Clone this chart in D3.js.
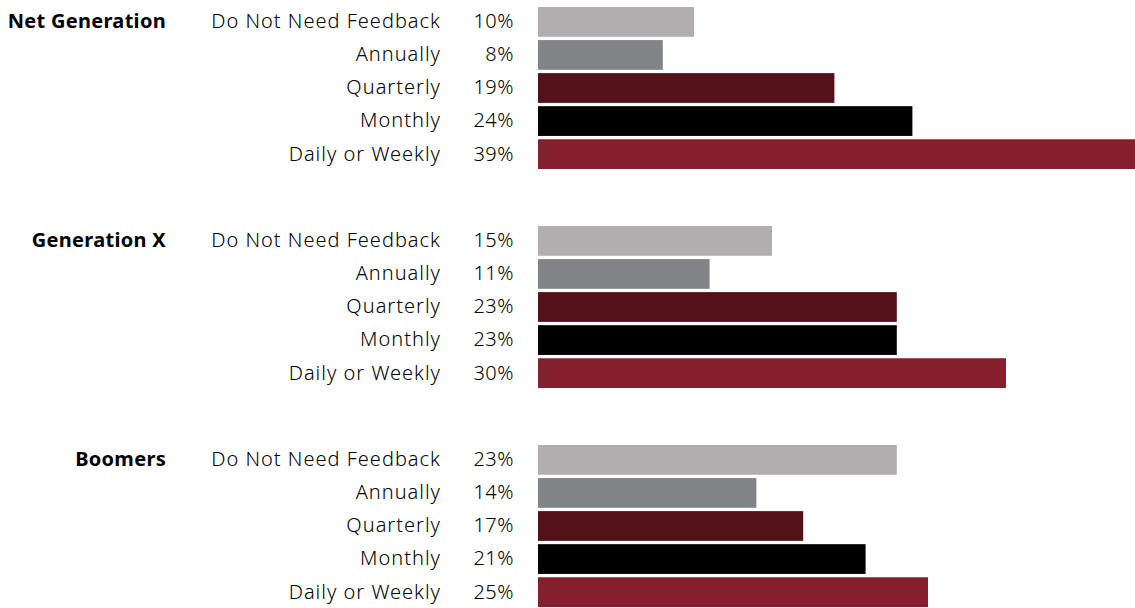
<!DOCTYPE html>
<html>
<head>
<meta charset="utf-8">
<script src="https://cdn.jsdelivr.net/npm/d3@7"></script>
<style>
  html, body { margin: 0; padding: 0; background: #fff; overflow: hidden; }
  svg { display: block; }
  text { font-family: "Noto Sans", Lato, sans-serif; fill: #000; }
</style>
</head>
<body>
<svg id="chart" width="1135" height="608"></svg>
<script>
// Generations surveyed
const generations = ["Net Generation", "Generation X", "Boomers"];

// How often each generation wants feedback
const frequencies = ["Do Not Need Feedback", "Annually", "Quarterly", "Monthly", "Daily or Weekly"];

// Share of respondents (%) per frequency, in the order above
const netGeneration = [10, 8, 19, 24, 39];
const generationX   = [15, 11, 23, 23, 30];
const boomers       = [23, 14, 17, 21, 25];

const frequencyColors = ["#b0aeaf", "#838487", "#54111a", "#000000", "#861f2d"];

const seriesByGeneration = [netGeneration, generationX, boomers];

const rows = [];
generations.forEach((g, gi) => {
  frequencies.forEach((f, fi) => {
    rows.push({ generation: g, frequency: f, value: seriesByGeneration[gi][fi] });
  });
});

const svg = d3.select("#chart");

const x = d3.scaleLinear().domain([0, 40]).range([538, 1162]);

const groupY = d3.scaleBand()
  .domain(generations)
  .range([7, 607])
  .paddingInner(57 / 219)
  .paddingOuter(0);

const rowY = d3.scaleBand()
  .domain(frequencies)
  .range([0, groupY.bandwidth()])
  .paddingInner(0.1)
  .paddingOuter(0);

const color = d3.scaleOrdinal().domain(frequencies).range(frequencyColors);

const labelSize = 20;

const groups = svg.selectAll("g.generation")
  .data(generations)
  .join("g")
  .attr("class", "generation")
  .attr("transform", d => `translate(0,${groupY(d)})`);

// Generation name, bold, level with the first row
groups.append("text")
  .attr("x", 166)
  .attr("y", rowY(frequencies[0]) + rowY.bandwidth() / 2)
  .attr("dy", "0.32em")
  .attr("text-anchor", "end")
  .attr("font-size", labelSize)
  .attr("font-weight", 700)
  .attr("letter-spacing", 0.3)
  .text(d => d);

const rowGroups = groups.selectAll("g.row")
  .data(g => rows.filter(r => r.generation === g))
  .join("g")
  .attr("class", "row")
  .attr("transform", d => `translate(0,${rowY(d.frequency)})`);

rowGroups.append("rect")
  .attr("x", x(0))
  .attr("y", 0)
  .attr("width", d => x(d.value) - x(0))
  .attr("height", rowY.bandwidth())
  .attr("fill", d => color(d.frequency));

rowGroups.append("text")
  .attr("x", 441)
  .attr("y", rowY.bandwidth() / 2)
  .attr("dy", "0.32em")
  .attr("text-anchor", "end")
  .attr("font-size", labelSize)
  .attr("font-weight", 300)
  .attr("letter-spacing", 1.0)
  .text(d => d.frequency);

rowGroups.append("text")
  .attr("x", 514)
  .attr("y", rowY.bandwidth() / 2)
  .attr("dy", "0.32em")
  .attr("text-anchor", "end")
  .attr("font-size", labelSize)
  .attr("font-weight", 300)
  .attr("letter-spacing", 0.5)
  .text(d => d.value + "%");
</script>
</body>
</html>
